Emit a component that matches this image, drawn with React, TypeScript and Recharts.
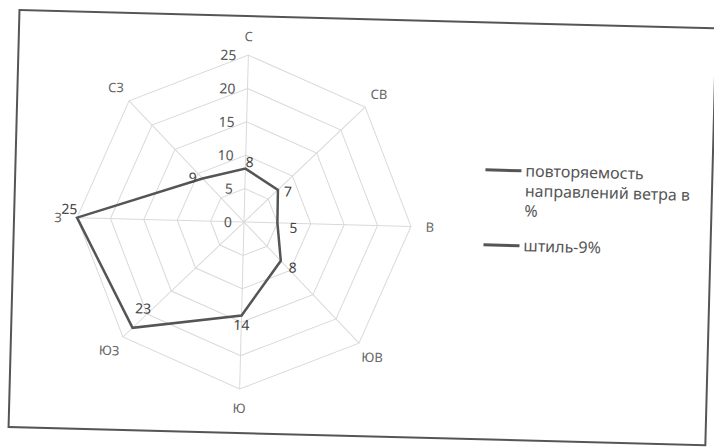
import {
	Legend,
	PolarAngleAxis,
	PolarGrid,
	PolarRadiusAxis,
	Radar,
	RadarChart,
} from 'recharts';

// румбы, начиная с севера, по часовой стрелке
const directions = ['С', 'СВ', 'В', 'ЮВ', 'Ю', 'ЮЗ', 'З', 'СЗ'];
// повторяемость направлений ветра, %
const frequency = [8, 7, 5, 8, 14, 23, 25, 9];
const radiusTicks = [0, 5, 10, 15, 20, 25];
const seriesNames = ['повторяемость направлений ветра в %', 'штиль-9%'];

const data = directions.map((dir, i) => ({ dir, freq: frequency[i] }));

const CX = 244;
const CY = 225;
const R = 167;
const FONT = '"Noto Sans", sans-serif';

// сдвиг подписей значений относительно точки (как в исходной диаграмме)
const labelNudge = [
	[4, -7],
	[10, 1],
	[16, 4],
	[12, 6],
	[0, 9],
	[10, -20],
	[-8, -9],
	[-10, -1],
];

const AngleTick = (props: any) => {
	const { x, y, payload } = props;
	const dx = x - CX;
	const dy = y - CY;
	const len = Math.sqrt(dx * dx + dy * dy) || 1;
	const r = 186;
	return (
		<text
			x={CX + (dx / len) * r}
			y={CY + (dy / len) * r}
			textAnchor="middle"
			dominantBaseline="central"
			fontSize={13}
			fontFamily={FONT}
			fill="#666"
		>
			{payload.value}
		</text>
	);
};

const RadiusTick = (props: any) => {
	const { x, y, payload } = props;
	return (
		<text
			x={x - 12}
			y={y}
			textAnchor="end"
			dominantBaseline="central"
			fontSize={14}
			fontFamily={FONT}
			fill="#555"
		>
			{payload.value}
		</text>
	);
};

const ValueLabel = (props: any) => {
	const x = props.x ?? props.viewBox?.x;
	const y = props.y ?? props.viewBox?.y;
	const i = props.index ?? 0;
	const [nx, ny] = labelNudge[i] || [0, 0];
	return (
		<text
			x={x + nx}
			y={y + ny}
			textAnchor="middle"
			dominantBaseline="central"
			fontSize={14}
			fontFamily={FONT}
			fill="#444"
		>
			{props.value}
		</text>
	);
};

const renderLegend = () => (
	<div style={{ fontFamily: FONT, fontSize: 16, lineHeight: '20px', color: '#555' }}>
		{seriesNames.map((name, i) => (
			<div key={name} style={{ display: 'flex', alignItems: 'flex-start', marginBottom: i === 0 ? 15 : 0 }}>
				<div style={{ width: 36, height: 2.5, background: '#555', marginTop: 9, marginRight: 4, flexShrink: 0 }} />
				<div style={{ width: 176 }}>{name}</div>
			</div>
		))}
	</div>
);

export default function App() {
	return (
		<div style={{ position: 'absolute', left: 0, top: 0, width: 714, height: 448, background: '#fff', overflow: 'hidden' }}>
			<div style={{ position: 'absolute', left: 0, top: 0, width: 714, height: 448, transform: 'rotate(1.5deg)' }}>
				<div
					style={{
						position: 'absolute',
						left: 13,
						top: 18,
						width: 699,
						height: 419,
						border: '2px solid #555',
						boxSizing: 'border-box',
					}}
				/>
				<RadarChart width={714} height={448} cx={CX} cy={CY} outerRadius={R} data={data}>
					<PolarGrid stroke="#d9d9d9" />
					<PolarAngleAxis dataKey="dir" tick={<AngleTick />} tickLine={false} axisLine={false} />
					<PolarRadiusAxis
						angle={90}
						domain={[0, 25]}
						ticks={radiusTicks as any}
						tickCount={6}
						axisLine={false}
						tick={<RadiusTick />}
					/>
					<Radar
						name={seriesNames[0]}
						dataKey="freq"
						stroke="#555"
						strokeWidth={2.5}
						fill="none"
						fillOpacity={0}
						dot={false}
						label={<ValueLabel />}
						isAnimationActive={false}
					/>
					<Legend
						content={renderLegend}
						wrapperStyle={{ position: 'absolute', left: 484, top: 156, width: 230 }}
					/>
				</RadarChart>
			</div>
		</div>
	);
}
